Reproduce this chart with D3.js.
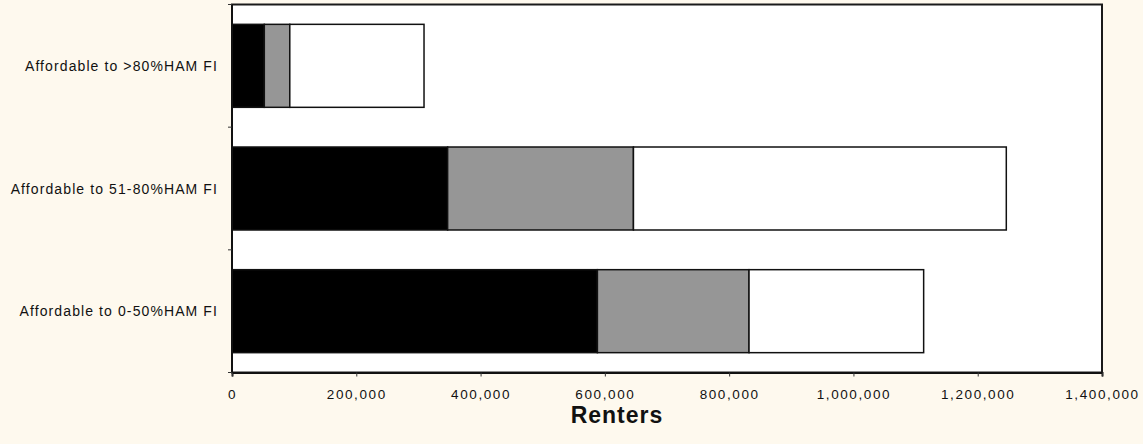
<!DOCTYPE html>
<html>
<head>
<meta charset="utf-8">
<script src="https://cdn.jsdelivr.net/npm/d3@7"></script>
<style>
  html, body { margin: 0; padding: 0; background: #fef9ee; }
  svg { display: block; }
  text { font-family: "Liberation Sans", Arial, sans-serif; fill: #111; }
</style>
</head>
<body>
<svg id="chart" width="1143" height="444"></svg>
<script>
// Renter households by unit affordability, stacked in three segments
const categories = [
  "Affordable to >80%HAM FI",
  "Affordable to 51-80%HAM FI",
  "Affordable to 0-50%HAM FI"
];
const seriesNames = ["s1", "s2", "s3"];
const s1Values = [52000, 347000, 588000];
const s2Values = [41000, 299000, 244000];
const s3Values = [216000, 600000, 281000];
const xTickValues = [0, 200000, 400000, 600000, 800000, 1000000, 1200000, 1400000];
const axisTitle = "Renters";

const fills = { s1: "#000000", s2: "#969696", s3: "#ffffff" };

const rows = categories.map((c, i) => ({
  category: c, s1: s1Values[i], s2: s2Values[i], s3: s3Values[i]
}));

const svg = d3.select("#chart");
const plot = { left: 232, right: 1102, top: 4.5, bottom: 372.5 };

const x = d3.scaleLinear().domain([0, 1400000]).range([plot.left, plot.right]);
const y = d3.scaleBand().domain(categories).range([plot.top, plot.bottom])
  .paddingInner(0.3235).paddingOuter(0.1617);

// plot area
svg.append("rect")
  .attr("x", plot.left).attr("y", plot.top)
  .attr("width", plot.right - plot.left).attr("height", plot.bottom - plot.top)
  .attr("fill", "#ffffff").attr("stroke", "#1a1a1a").attr("stroke-width", 2);

// stacked bars
const stacked = d3.stack().keys(seriesNames)(rows);
svg.append("g").selectAll("g")
  .data(stacked).join("g")
  .attr("fill", d => fills[d.key])
  .selectAll("rect")
  .data(d => d).join("rect")
  .attr("x", d => x(d[0]))
  .attr("y", d => y(d.data.category))
  .attr("width", d => x(d[1]) - x(d[0]))
  .attr("height", y.bandwidth())
  .attr("stroke", "#111").attr("stroke-width", 1.5);

// x axis
const xAxis = svg.append("g")
  .attr("transform", `translate(0,${plot.bottom})`)
  .call(d3.axisBottom(x).tickValues(xTickValues).tickSize(4).tickFormat(d3.format(",")));
xAxis.select(".domain").attr("stroke", "#111").attr("stroke-width", 2);
xAxis.selectAll(".tick line").attr("stroke", "#333");
xAxis.selectAll(".tick text")
  .attr("y", 26.5).attr("dy", null)
  .style("font-size", "13.5px").style("letter-spacing", "1.6px")
  .attr("fill", "#111");

// y axis: category ticks at band boundaries
const yAxisG = svg.append("g");
yAxisG.append("line")
  .attr("x1", plot.left).attr("x2", plot.left)
  .attr("y1", plot.top).attr("y2", plot.bottom)
  .attr("stroke", "#111").attr("stroke-width", 2);
const bounds = categories.map(c => y(c) - y.step() * y.paddingInner() / 2)
  .concat([plot.bottom]);
yAxisG.selectAll("line.btick").data(bounds).join("line")
  .attr("class", "btick")
  .attr("x1", plot.left - 4).attr("x2", plot.left)
  .attr("y1", d => d).attr("y2", d => d)
  .attr("stroke", "#333").attr("stroke-width", 1);
yAxisG.selectAll("text").data(categories).join("text")
  .attr("x", 218)
  .attr("y", d => y(d) + y.bandwidth() / 2 + 5)
  .attr("text-anchor", "end")
  .style("font-size", "14px").style("letter-spacing", "1.1px")
  .text(d => d);

// axis title
svg.append("text")
  .attr("x", 617).attr("y", 423)
  .attr("text-anchor", "middle")
  .style("font-size", "23px").style("font-weight", "bold").style("letter-spacing", "1px")
  .text(axisTitle);
</script>
</body>
</html>
